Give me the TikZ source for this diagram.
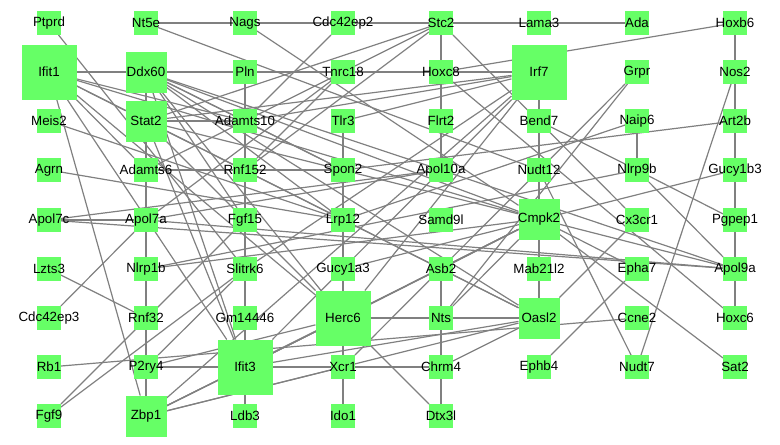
\documentclass[tikz,border=0pt]{standalone}
\usepackage{fontspec}
\setmainfont{Liberation Sans}
\pgfdeclarelayer{background}
\pgfsetlayers{background,main}
\definecolor{nodegreen}{RGB}{102,255,102}
\definecolor{edgegray}{RGB}{128,128,128}
\tikzset{
  gbox/.style={draw=none,fill=nodegreen,inner sep=0pt,outer sep=0pt,minimum size=#1*0.75pt},
  sm/.style={gbox=24},
  md/.style={gbox=41},
  lg/.style={gbox=55},
  edge/.style={draw=edgegray,line width=0.9pt},
  lab/.style={font=\fontsize{10}{12}\selectfont,text=black,inner sep=0pt}
}
\newcommand{\gn}[5]{\node[#1] (#2) at (#3,#4) {}; \node[lab] at (#2.center) {#5};}
\begin{document}
\begin{tikzpicture}[x=0.75pt,y=-0.75pt]
\useasboundingbox (0,0) rectangle (780,444);
% row 1
\gn{sm}{ptprd}{49}{23}{Ptprd}
\gn{sm}{nte}{146}{23}{Nt5e}
\gn{sm}{nags}{245}{23}{Nags}
\gn{sm}{cdcb}{343}{23}{Cdc42ep2}
\gn{sm}{stc}{441}{23}{Stc2}
\gn{sm}{lama}{539}{23}{Lama3}
\gn{sm}{ada}{637}{23}{Ada}
\gn{sm}{hoxb}{735}{23}{Hoxb6}
% row 2
\gn{lg}{ifita}{49}{72}{Ifit1}
\gn{md}{ddx}{146}{72}{Ddx60}
\gn{sm}{pln}{245}{72}{Pln}
\gn{sm}{tnrc}{343}{72}{Tnrc18}
\gn{sm}{hoxce}{441}{72}{Hoxc8}
\gn{lg}{irf}{539}{72}{Irf7}
\gn{sm}{grpr}{637}{72}{Grpr}
\gn{sm}{nos}{735}{72}{Nos2}
% row 3
\gn{sm}{meis}{49}{121}{Meis2}
\gn{md}{stat}{146}{121}{Stat2}
\gn{sm}{adten}{245}{121}{Adamts10}
\gn{sm}{tlr}{343}{121}{Tlr3}
\gn{sm}{flrt}{441}{121}{Flrt2}
\gn{sm}{bend}{539}{121}{Bend7}
\gn{sm}{naip}{637}{121}{Naip6}
\gn{sm}{art}{735}{121}{Art2b}
% row 4
\gn{sm}{agrn}{49}{170}{Agrn}
\gn{sm}{adsix}{146}{170}{Adamts6}
\gn{sm}{rnfot}{245}{170}{Rnf152}
\gn{sm}{spon}{343}{170}{Spon2}
\gn{sm}{apolten}{441}{170}{Apol10a}
\gn{sm}{nudtt}{539}{170}{Nudt12}
\gn{sm}{nlrpnb}{637}{170}{Nlrp9b}
\gn{sm}{gucyb}{735}{170}{Gucy1b3}
% row 5
\gn{sm}{apolsc}{49}{220}{Apol7c}
\gn{sm}{apolsa}{146}{220}{Apol7a}
\gn{sm}{fgfft}{245}{220}{Fgf15}
\gn{sm}{lrp}{343}{220}{Lrp12}
\gn{sm}{samd}{441}{220}{Samd9l}
\gn{md}{cmpk}{539}{219}{Cmpk2}
\gn{sm}{cxc}{637}{220}{Cx3cr1}
\gn{sm}{pgpep}{735}{220}{Pgpep1}
% row 6
\gn{sm}{lzts}{49}{269}{Lzts3}
\gn{sm}{nlrpob}{146}{269}{Nlrp1b}
\gn{sm}{slit}{245}{269}{Slitrk6}
\gn{sm}{gucya}{343}{269}{Gucy1a3}
\gn{sm}{asb}{441}{269}{Asb2}
\gn{sm}{mab}{539}{269}{Mab21l2}
\gn{sm}{epha}{637}{269}{Epha7}
\gn{sm}{apolna}{735}{269}{Apol9a}
% row 7
\gn{sm}{cdce}{49}{318}{Cdc42ep3}
\gn{sm}{rnfts}{146}{318}{Rnf32}
\gn{sm}{gm}{245}{318}{Gm14446}
\gn{lg}{herc}{343}{318}{Herc6}
\gn{sm}{nts}{441}{318}{Nts}
\gn{md}{oasl}{539}{318}{Oasl2}
\gn{sm}{ccne}{637}{318}{Ccne2}
\gn{sm}{hoxcs}{735}{318}{Hoxc6}
% row 8
\gn{sm}{rb}{49}{367}{Rb1}
\gn{sm}{ptry}{146}{367}{P2ry4}
\gn{lg}{ifitc}{245}{367}{Ifit3}
\gn{sm}{xcr}{343}{367}{Xcr1}
\gn{sm}{chrm}{441}{367}{Chrm4}
\gn{sm}{ephb}{539}{367}{Ephb4}
\gn{sm}{nudts}{637}{367}{Nudt7}
\gn{sm}{sat}{735}{367}{Sat2}
% row 9
\gn{sm}{fgfn}{49}{416}{Fgf9}
\gn{md}{zbp}{146}{416}{Zbp1}
\gn{sm}{ldb}{245}{416}{Ldb3}
\gn{sm}{ido}{343}{416}{Ido1}
\gn{sm}{dtx}{441}{416}{Dtx3l}
\begin{pgfonlayer}{background}
\foreach \a/\b in {
 ifita/ddx, ifita/stat, ifita/irf, ifita/cmpk, ifita/herc, ifita/oasl, ifita/ifitc, ifita/zbp,
 ddx/stat, ddx/irf, ddx/cmpk, ddx/herc, ddx/oasl, ddx/ifitc, ddx/zbp,
 stat/irf, stat/cmpk, stat/herc, stat/oasl, stat/ifitc, stat/zbp,
 irf/cmpk, irf/herc, irf/oasl, irf/ifitc, irf/zbp,
 cmpk/herc, cmpk/oasl, cmpk/ifitc, cmpk/zbp,
 herc/oasl, herc/ifitc, herc/zbp,
 oasl/ifitc, oasl/zbp, ifitc/zbp,
 nte/nags, nte/nudtt, nags/cdcb, nags/cmpk, cdcb/stc, cdcb/adten, stc/lama, lama/ada,
 stc/hoxce, stc/tnrc, tnrc/adten, stc/rnfot, stc/cxc, hoxb/hoxce, hoxb/nos, ptprd/slit,
 nos/art, nos/nudts, grpr/xcr, grpr/nts, pln/adten, hoxce/flrt, hoxce/hoxcs,
 tnrc/rnfot, tnrc/apolsa, irf/tlr, irf/adten, irf/slit,
 ddx/adten, ddx/spon, ddx/apolten, ddx/lrp, ddx/fgfft,
 meis/lrp, stat/adten, stat/stc,
 adten/rnfot, rnfot/fgfft, fgfft/slit, slit/gm, gm/ifitc, ifitc/ldb,
 tlr/spon, spon/lrp, lrp/gucya, gucya/herc, herc/xcr, xcr/ido,
 flrt/apolten, asb/nts, nts/chrm, chrm/dtx,
 bend/nudtt, naip/nlrpnb, art/gucyb, gucyb/pgpep, pgpep/apolna, apolna/hoxcs,
 adsix/rnfot, rnfot/spon, apolsc/apolsa,
 ptry/ifitc, ifitc/xcr, xcr/chrm, rb/ccne,
 apolsc/apolten, apolsc/apolna, apolsa/apolten, apolsa/apolna, apolten/apolna,
 art/spon, naip/lrp, gucya/gucyb, bend/nlrpnb, nlrpnb/pgpep, nlrpnb/apolna,
 cmpk/apolna, cmpk/epha, ephb/epha, cxc/oasl, nudts/nudtt, sat/cmpk,
 agrn/lrp, lzts/rnfts, cdce/apolsa, fgfn/fgfft, fgfn/slit, ptry/herc, ptry/slit,
 nlrpob/nlrpnb, nlrpob/cmpk, chrm/oasl, herc/dtx, nts/cmpk, zbp/xcr,
 adsix/adten, adten/spon, ifita/adten, ifita/adsix, asb/cmpk}
 { \draw[edge] (\a) -- (\b); }
\end{pgfonlayer}
\end{tikzpicture}
\end{document}
